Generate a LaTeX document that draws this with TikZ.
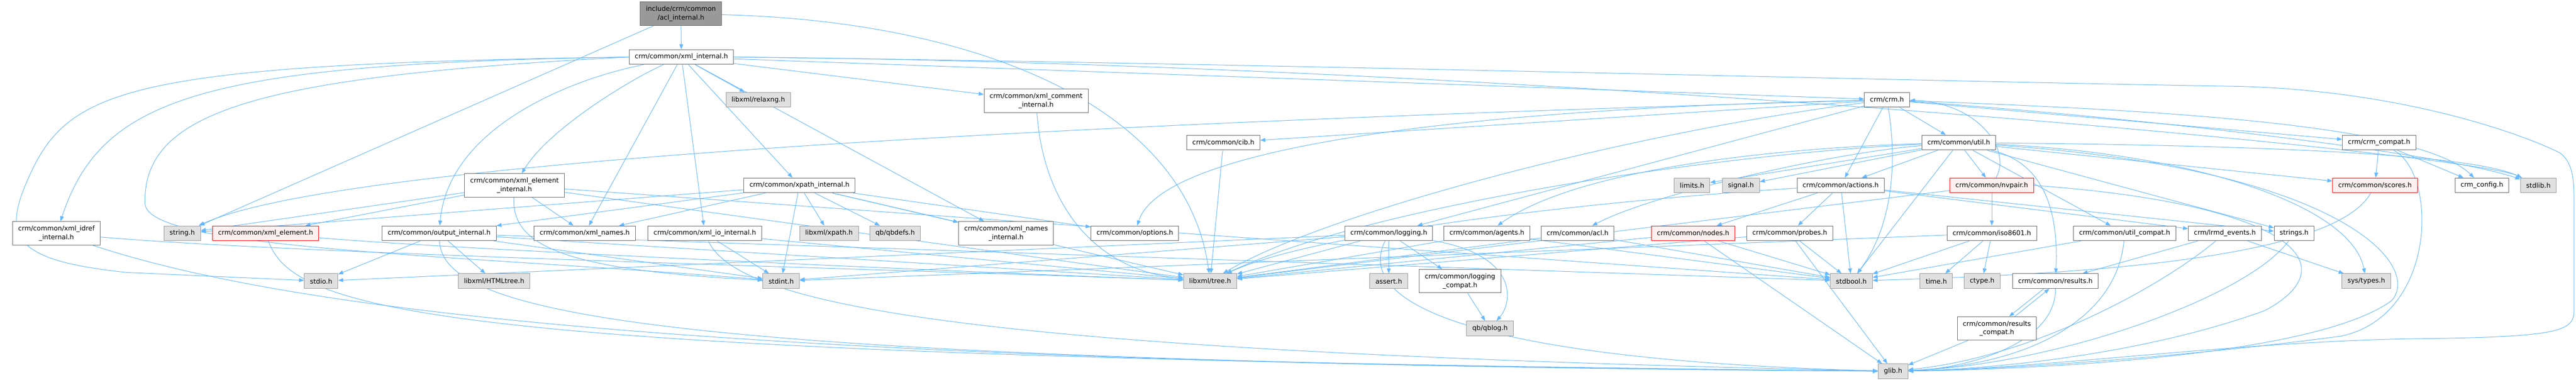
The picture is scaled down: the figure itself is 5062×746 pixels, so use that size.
\documentclass[tikz,border=0pt]{standalone}
\usepackage{fontspec}
\setmainfont{DejaVu Sans}
\usetikzlibrary{arrows.meta,backgrounds}

\definecolor{edgeblue}{HTML}{63B8FF}
\definecolor{boxgray}{HTML}{666666}
\definecolor{sysfill}{HTML}{E0E0E0}
\definecolor{sysdraw}{HTML}{999999}
\definecolor{redfill}{HTML}{FFF0F0}
\definecolor{rootfill}{HTML}{999999}

% one unit = one pixel of the reference, at a fifth of a point
\tikzset{
  hdr/.style={draw=boxgray, fill=white, line width=0.2pt, inner xsep=2.2pt, inner ysep=0.4pt,
    minimum height=5.8pt, align=center, font=\fontsize{2.6}{3.4}\selectfont},
  syshdr/.style={hdr, draw=sysdraw, fill=sysfill},
  redhdr/.style={hdr, draw=red, fill=redfill},
  roothdr/.style={hdr, fill=rootfill},
  twoline/.style={minimum height=9.2pt},
  dep/.style={draw=edgeblue, line width=0.2pt, -{Triangle[length=2pt,width=1.5pt]}}
}

\begin{document}
\begin{tikzpicture}[x=0.2pt,y=-0.2pt]
			%%%%% START %%%%%
			\useasboundingbox (0,0) rectangle (5062,746);
			
			% rank 0 and 1
			\node[roothdr,twoline] (root) at (1338,27) {include/crm/common\\/acl\_internal.h};
			\node[hdr] (xmlint) at (1339,112) {crm/common/xml\_internal.h};
			
			% rank 2
			\node[syshdr] (relaxng) at (1490,196) {libxml/relaxng.h};
			\node[hdr,twoline] (xmlcomment) at (2036,198) {crm/common/xml\_comment\\\_internal.h};
			\node[hdr] (crmh) at (3708,196) {crm/crm.h};
			
			% rank 3
			\node[hdr] (cib) at (2404,280) {crm/common/cib.h};
			\node[hdr] (util) at (3849,280) {crm/common/util.h};
			\node[hdr] (crmcompat) at (4675,280) {crm/crm\_compat.h};
			
			% rank 4
			\node[hdr,twoline] (xmlelemint) at (1011,364) {crm/common/xml\_element\\\_internal.h};
			\node[hdr] (xpathint) at (1571,364) {crm/common/xpath\_internal.h};
			\node[syshdr] (limits) at (3325,364) {limits.h};
			\node[syshdr] (signal) at (3421,364) {signal.h};
			\node[hdr] (actions) at (3617,364) {crm/common/actions.h};
			\node[redhdr] (nvpair) at (3914,364) {crm/common/nvpair.h};
			\node[redhdr] (scores) at (4667,364) {crm/common/scores.h};
			\node[hdr] (crmconfig) at (4877,364) {crm\_config.h};
			\node[syshdr] (stdlib) at (4988,364) {stdlib.h};
			
			% rank 5
			\node[hdr,twoline] (xmlidref) at (111,458) {crm/common/xml\_idref\\\_internal.h};
			\node[syshdr] (stringh) at (358,458) {string.h};
			\node[redhdr] (xmlelement) at (522,458) {crm/common/xml\_element.h};
			\node[hdr] (outputint) at (863,458) {crm/common/output\_internal.h};
			\node[hdr] (xmlnames) at (1149,458) {crm/common/xml\_names.h};
			\node[hdr] (xmlioint) at (1385,458) {crm/common/xml\_io\_internal.h};
			\node[syshdr] (xpathh) at (1629,458) {libxml/xpath.h};
			\node[syshdr] (qbdefs) at (1759,458) {qb/qbdefs.h};
			\node[hdr,twoline] (xmlnamesint) at (1977,458) {crm/common/xml\_names\\\_internal.h};
			\node[hdr] (options) at (2230,458) {crm/common/options.h};
			\node[hdr] (logging) at (2729,458) {crm/common/logging.h};
			\node[hdr] (agents) at (2922,458) {crm/common/agents.h};
			\node[hdr] (acl) at (3100,458) {crm/common/acl.h};
			\node[redhdr] (nodes) at (3327,458) {crm/common/nodes.h};
			\node[hdr] (probes) at (3517,458) {crm/common/probes.h};
			\node[hdr] (iso) at (3914,458) {crm/common/iso8601.h};
			\node[hdr] (utilcompat) at (4175,458) {crm/common/util\_compat.h};
			\node[hdr] (lrmd) at (4372,458) {crm/lrmd\_events.h};
			\node[hdr] (strings) at (4508,458) {strings.h};
			
			% rank 6
			\node[syshdr] (stdio) at (631,552) {stdio.h};
			\node[syshdr] (htmltree) at (971,552) {libxml/HTMLtree.h};
			\node[syshdr] (stdint) at (1535,552) {stdint.h};
			\node[syshdr] (tree) at (2378,552) {libxml/tree.h};
			\node[syshdr] (assert) at (2729,552) {assert.h};
			\node[hdr,twoline] (loggingcompat) at (2869,552) {crm/common/logging\\\_compat.h};
			\node[syshdr] (stdbool) at (3638,552) {stdbool.h};
			\node[syshdr] (timeh) at (3805,552) {time.h};
			\node[syshdr] (ctype) at (3895,552) {ctype.h};
			\node[hdr] (results) at (4039,552) {crm/common/results.h};
			\node[syshdr] (systypes) at (4650,552) {sys/types.h};
			
			% rank 7 and 8
			\node[syshdr] (qblog) at (2928,645) {qb/qblog.h};
			\node[hdr,twoline] (resultscompat) at (3924,645) {crm/common/results\\\_compat.h};
			\node[syshdr] (glib) at (3720,729) {glib.h};
			
			\begin{pgfonlayer}{background}
			% acl_internal.h
			\draw[dep] (root) -- (xmlint);
			\draw[dep] (root) -- (stringh);
			\draw[dep] (root) .. controls (1900,40) and (2330,200) .. (tree);
			
			% xml_internal.h
			\draw[dep] (xmlint.west) .. controls (400,125) and (200,190) .. (xmlidref);
			\draw[dep] (xmlint.west) .. controls (300,125) and (150,170) .. (70,320) .. controls (0,460) and (10,510) .. (250,535) -- (stdio);
			\draw[dep] (xmlint.west) .. controls (500,150) and (280,220) .. (285,400) .. controls (290,490) and (900,500) .. (stdint);
			\draw[dep] (xmlint) .. controls (1250,150) and (1080,250) .. (xmlelemint);
			\draw[dep] (xmlint) .. controls (1100,160) and (880,260) .. (outputint);
			\draw[dep] (xmlint) -- (xmlnames);
			\draw[dep] (xmlint) -- (xmlioint);
			\draw[dep] (xmlint) -- (xpathint);
			\draw[dep] (xmlint) -- (relaxng);
			\draw[dep] (xmlint) -- (xmlcomment);
			\draw[dep] (xmlint) -- (xmlnamesint);
			\draw[dep] (xmlint) -- (crmh);
			\draw[dep] (xmlint.east) .. controls (3000,125) and (4850,300) .. (stdlib);
			\draw[dep] (xmlint.east) .. controls (2500,125) and (3800,160) .. (4366,169) .. controls (4700,172) and (4950,260) .. (5030,300) .. controls (5058,320) and (5058,360) .. (5058,400) -- (5058,610) .. controls (5058,650) and (5030,662) .. (4750,665) .. controls (4400,670) and (4000,725) .. (glib);
			
			% xml_idref_internal.h, xml_element.h
			\draw[dep] (xmlidref) .. controls (600,500) and (1800,530) .. (tree);
			\draw[dep] (xmlidref) .. controls (600,620) and (1500,715) .. (glib);
			\draw[dep] (xmlelement) .. controls (900,490) and (1800,530) .. (tree);
			\draw[dep] (xmlelement) .. controls (580,620) and (900,700) .. (glib);
			
			% xml_element_internal.h
			\draw[dep] (xmlelemint) -- (stringh);
			\draw[dep] (xmlelemint) -- (xmlelement);
			\draw[dep] (xmlelemint) -- (xmlnames);
			\draw[dep] (xmlelemint) .. controls (1005,480) and (1100,530) .. (stdint);
			\draw[dep] (xmlelemint) -- (tree);
			\draw[dep] (xmlelemint) -- (stdbool);
			
			% output_internal.h
			\draw[dep] (outputint) -- (htmltree);
			\draw[dep] (outputint) -- (stdio);
			\draw[dep] (outputint) .. controls (870,620) and (1300,710) .. (glib);
			\draw[dep] (outputint) -- (tree);
			\draw[dep] (outputint) -- (stdint);
			\draw[dep] (outputint) -- (stdbool);
			
			% xml_io_internal.h
			\draw[dep] (xmlioint) -- (stdint);
			\draw[dep] (xmlioint) -- (tree);
			\draw[dep] (xmlioint) .. controls (1450,600) and (1900,690) .. (glib);
			
			% xpath_internal.h
			\draw[dep] (xpathint) -- (xpathh);
			\draw[dep] (xpathint) -- (stdint);
			\draw[dep] (xpathint) -- (xmlnames);
			\draw[dep] (xpathint) -- (outputint);
			\draw[dep] (xpathint) -- (stringh);
			\draw[dep] (xpathint) -- (qbdefs);
			\draw[dep] (xpathint) -- (xmlnamesint);
			\draw[dep] (xpathint) -- (options);
			\draw[dep] (xpathint) -- (tree);
			
			% xml_comment_internal.h, cib.h
			\draw[dep] (xmlcomment) .. controls (2050,400) and (2150,530) .. (tree);
			\draw[dep] (cib) -- (tree);
			
			% crm.h
			\draw[dep] (crmh) -- (util);
			\draw[dep] (crmh) -- (actions);
			\draw[dep] (crmh) .. controls (3730,330) and (3715,450) .. (stdbool);
			\draw[dep] (crmh) -- (crmcompat);
			\draw[dep] (crmh) .. controls (4200,230) and (4800,300) .. (stdlib);
			\draw[dep] (crmh) .. controls (4200,215) and (4750,240) .. (crmconfig);
			\draw[dep] (crmh) -- (cib);
			\draw[dep] (crmh) -- (logging);
			\draw[dep] (crmh) .. controls (2800,215) and (2280,300) .. (options);
			\draw[dep] (crmh) .. controls (2500,230) and (700,300) .. (stringh);
			\draw[dep] (crmh) .. controls (3200,260) and (2600,420) .. (tree);
			
			% util.h
			\draw[dep] (util) -- (nvpair);
			\draw[dep] (util) -- (actions);
			\draw[dep] (util) -- (stdbool);
			\draw[dep] (util) .. controls (4020,320) and (4045,420) .. (results);
			\draw[dep] (util) -- (utilcompat);
			\draw[dep] (util) -- (scores);
			\draw[dep] (util) -- (strings);
			\draw[dep] (util) .. controls (4300,300) and (4620,400) .. (systypes);
			\draw[dep] (util) .. controls (4400,285) and (4850,300) .. (stdlib);
			\draw[dep] (util) -- (limits);
			\draw[dep] (util) -- (signal);
			\draw[dep] (util) .. controls (3500,290) and (3100,330) .. (agents);
			\draw[dep] (util) .. controls (3600,300) and (3250,380) .. (acl);
			\draw[dep] (util) .. controls (3400,300) and (2700,400) .. (tree);
			\draw[dep] (util) .. controls (4600,330) and (4760,520) .. (4700,590) .. controls (4550,700) and (4000,725) .. (glib);
			
			% actions.h
			\draw[dep] (actions) -- (nodes);
			\draw[dep] (actions) -- (probes);
			\draw[dep] (actions) -- (stdbool);
			\draw[dep] (actions) -- (lrmd);
			\draw[dep] (actions) -- (strings);
			\draw[dep] (actions) .. controls (3200,390) and (2600,450) .. (tree);
			
			% nvpair.h
			\draw[dep] (nvpair) -- (iso);
			\draw[dep] (nvpair) .. controls (3955,290) and (3880,200) .. (crmh);
			\draw[dep] (nvpair) -- (tree);
			\draw[dep] (nvpair.east) .. controls (4500,400) and (4620,520) .. (4450,610) .. controls (4200,700) and (3900,725) .. (glib);
			
			% logging.h
			\draw[dep] (logging) -- (assert);
			\draw[dep] (logging) -- (loggingcompat);
			\draw[dep] (logging) .. controls (2980,500) and (2975,590) .. (qblog);
			\draw[dep] (logging) .. controls (2650,620) and (3000,710) .. (glib);
			\draw[dep] (logging) -- (stdio);
			\draw[dep] (logging) -- (stdint);
			\draw[dep] (logging) -- (tree);
			\draw[dep] (loggingcompat) -- (qblog);
			
			% agents.h, acl.h, nodes.h, probes.h
			\draw[dep] (agents) -- (tree);
			\draw[dep] (agents) -- (stdbool);
			\draw[dep] (acl) -- (tree);
			\draw[dep] (acl) -- (stdbool);
			\draw[dep] (nodes) -- (tree);
			\draw[dep] (nodes) -- (glib);
			\draw[dep] (nodes) -- (stdbool);
			\draw[dep] (probes) -- (stdbool);
			\draw[dep] (probes) -- (glib);
			\draw[dep] (probes) -- (tree);
			
			% iso8601.h
			\draw[dep] (iso) -- (timeh);
			\draw[dep] (iso) -- (ctype);
			\draw[dep] (iso) -- (stdbool);
			\draw[dep] (iso) -- (stdint);
			
			% util_compat.h, lrmd_events.h, strings.h, scores.h
			\draw[dep] (utilcompat) -- (stdbool);
			\draw[dep] (utilcompat) .. controls (4160,620) and (4000,715) .. (glib);
			\draw[dep] (lrmd) -- (systypes);
			\draw[dep] (lrmd) -- (results);
			\draw[dep] (lrmd) .. controls (4250,560) and (4000,700) .. (glib);
			\draw[dep] (strings) .. controls (4420,580) and (4050,715) .. (glib);
			\draw[dep] (scores) .. controls (4580,520) and (4000,540) .. (stdbool);
			
			% crm_compat.h
			\draw[dep] (crmcompat) -- (scores);
			\draw[dep] (crmcompat) -- (crmconfig);
			\draw[dep] (crmcompat) .. controls (4790,340) and (4790,620) .. (4600,660) .. controls (4300,700) and (3950,725) .. (glib);
			
			% results.h
			\draw[dep] ([xshift=-4.6pt]results.south) -- ([xshift=4.8pt]resultscompat.north);
			\draw[dep] ([xshift=7pt]resultscompat.north) -- ([xshift=-2.4pt]results.south);
			\draw[dep] (results) .. controls (4040,680) and (3850,725) .. (glib);
			\draw[dep] (resultscompat) -- (glib);
			\end{pgfonlayer}
			
			%%%%% END %%%%%
\end{tikzpicture}
\end{document}
